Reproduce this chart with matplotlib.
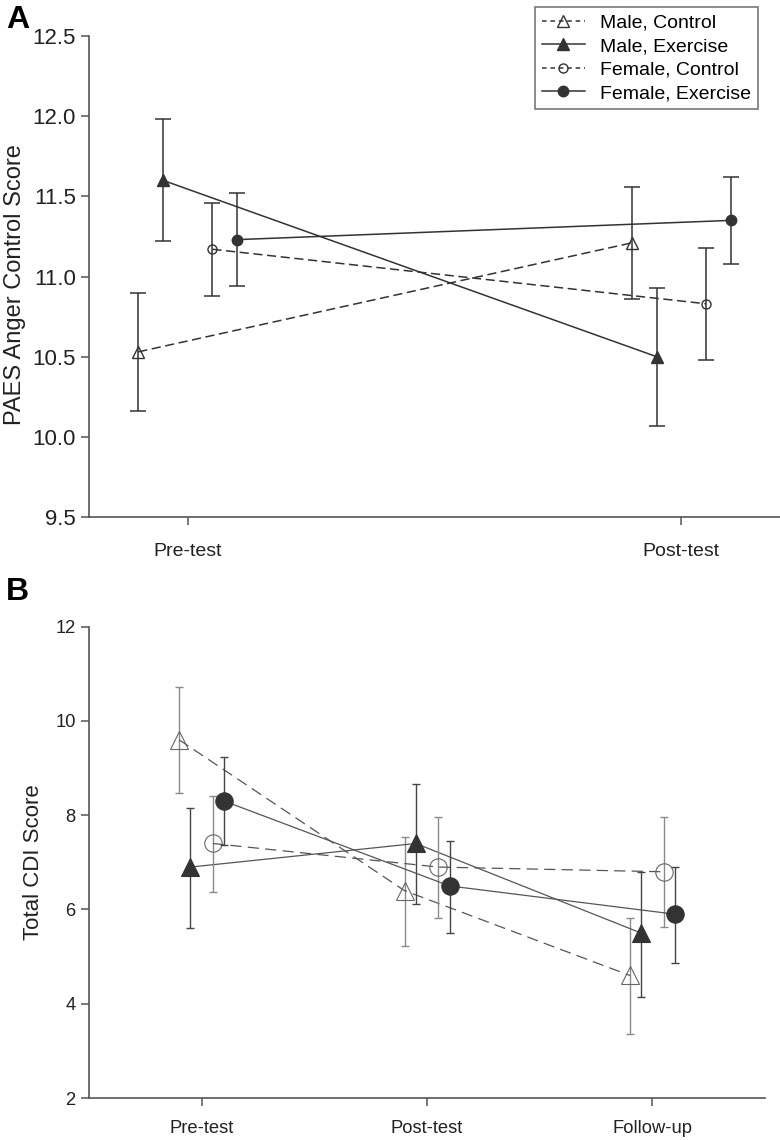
import numpy as np
import matplotlib
matplotlib.use("Agg")
import matplotlib.pyplot as plt
from matplotlib.lines import Line2D

plt.rcParams['font.family'] = ['Liberation Sans', 'DejaVu Sans']

groups = ["Male, Control", "Male, Exercise", "Female, Control", "Female, Exercise"]

# Panel A: PAES anger control
a_times = ["Pre-test", "Post-test"]
a_mean = {
    "Male, Control": [10.53, 11.21],
    "Male, Exercise": [11.60, 10.50],
    "Female, Control": [11.17, 10.83],
    "Female, Exercise": [11.23, 11.35],
}
a_low = {
    "Male, Control": [10.16, 10.86],
    "Male, Exercise": [11.22, 10.07],
    "Female, Control": [10.88, 10.48],
    "Female, Exercise": [10.94, 11.08],
}
a_high = {
    "Male, Control": [10.90, 11.56],
    "Male, Exercise": [11.98, 10.93],
    "Female, Control": [11.46, 11.18],
    "Female, Exercise": [11.52, 11.62],
}

# Panel B: total CDI
b_times = ["Pre-test", "Post-test", "Follow-up"]
b_mean = {
    "Male, Control": [9.6, 6.4, 4.6],
    "Male, Exercise": [6.9, 7.4, 5.5],
    "Female, Control": [7.4, 6.9, 6.8],
    "Female, Exercise": [8.3, 6.5, 5.9],
}
b_low = {
    "Male, Control": [8.48, 5.23, 3.36],
    "Male, Exercise": [5.61, 6.11, 4.15],
    "Female, Control": [6.37, 5.82, 5.62],
    "Female, Exercise": [7.36, 5.51, 4.86],
}
b_high = {
    "Male, Control": [10.71, 7.53, 5.81],
    "Male, Exercise": [8.16, 8.66, 6.80],
    "Female, Control": [8.41, 7.96, 7.97],
    "Female, Exercise": [9.23, 7.45, 6.91],
}

offsets = {"Male, Control": -0.1, "Male, Exercise": -0.05,
           "Female, Control": 0.05, "Female, Exercise": 0.1}
markers = {"Male, Control": "^", "Male, Exercise": "^",
           "Female, Control": "o", "Female, Exercise": "o"}
filled = {"Male, Control": False, "Male, Exercise": True,
          "Female, Control": False, "Female, Exercise": True}

dark = "#333333"
spine_c = "#555555"

fig = plt.figure(figsize=(7.8, 11.4), dpi=100)
axA = fig.add_axes([0.114, 0.5465, 0.886, 0.4219])
axB = fig.add_axes([0.114, 0.0368, 0.867, 0.4135])


def style_axes(ax, size):
    for s in ["top", "right"]:
        ax.spines[s].set_visible(False)
    for s in ["left", "bottom"]:
        ax.spines[s].set_color(spine_c)
        ax.spines[s].set_linewidth(1.2)
    ax.tick_params(direction="out", length=6, width=1.1, color=spine_c,
                   labelsize=size, labelcolor="#222222")


def marker_size(g):
    if markers[g] == "^":
        return 8
    return 7.5 if filled[g] else 6.5


# panel A
for g in groups:
    x = np.arange(len(a_times)) + offsets[g]
    m = np.array(a_mean[g])
    err = [m - np.array(a_low[g]), np.array(a_high[g]) - m]
    axA.errorbar(x, m, yerr=err, fmt="none", ecolor=dark, elinewidth=1.1,
                 capsize=5.5, capthick=1.1)
    axA.plot(x, m, color=dark, lw=1.1,
             ls=(0, (6, 3)) if not filled[g] else "-",
             marker=markers[g], ms=marker_size(g),
             mfc=dark if filled[g] else "none", mec=dark, mew=1.0)

axA.set_xlim(-0.2, 1.2)
axA.set_ylim(9.5, 12.5)
axA.set_xticks(range(len(a_times)))
axA.set_xticklabels(a_times)
axA.set_yticks(np.arange(9.5, 12.51, 0.5))
axA.set_yticklabels([f"{v:.1f}" for v in np.arange(9.5, 12.51, 0.5)])
style_axes(axA, 16)
axA.tick_params(axis="x", pad=13, labelsize=14)
fig.text(4 / 780, 1 - 285 / 1140, "PAES Anger Control Score", rotation=90,
         fontsize=17, color="#222222", ha="left", va="center")

handles = []
for g in groups:
    handles.append(Line2D([], [], color=dark, lw=1.1,
                          ls=(0, (3, 2.5)) if not filled[g] else "-",
                          marker=markers[g], ms=marker_size(g),
                          mfc=dark if filled[g] else "none", mec=dark))
leg = fig.legend(handles, groups, loc="upper right", bbox_to_anchor=(0.977, 0.997),
                 fontsize=14, frameon=True, fancybox=False, handlelength=2.2,
                 borderpad=0.35, labelspacing=0.3, handletextpad=0.8,
                 borderaxespad=0.2)
leg.get_frame().set_edgecolor(spine_c)
leg.get_frame().set_linewidth(1.2)

# panel B
for g in groups:
    x = np.arange(len(b_times)) + offsets[g]
    m = np.array(b_mean[g])
    err = [m - np.array(b_low[g]), np.array(b_high[g]) - m]
    ecol = "#8a8a8a" if not filled[g] else "#444444"
    axB.errorbar(x, m, yerr=err, fmt="none", ecolor=ecol, elinewidth=1.0,
                 capsize=3, capthick=1.0)
    axB.plot(x, m, color="#555555", lw=0.9,
             ls=(0, (9, 5)) if not filled[g] else "-",
             marker=markers[g], ms=12.5,
             mfc=dark if filled[g] else "none", mec=dark if filled[g] else "#666666",
             mew=0.8)

axB.set_xlim(-0.5, 2.5)
axB.set_ylim(2, 12)
axB.set_xticks(range(len(b_times)))
axB.set_xticklabels(b_times)
axB.set_yticks([2, 4, 6, 8, 10, 12])
style_axes(axB, 13.2)
axB.tick_params(axis="x", pad=10)
fig.text(23 / 780, 1 - 862 / 1140, "Total CDI Score", rotation=90,
         fontsize=16, color="#222222", ha="left", va="center")

fig.text(0.008, 0.996, "A", fontsize=23, fontweight="bold", va="top", ha="left")
fig.text(0.008, 0.494, "B", fontsize=23, fontweight="bold", va="top", ha="left")

fig.savefig("out.png", dpi=100)
